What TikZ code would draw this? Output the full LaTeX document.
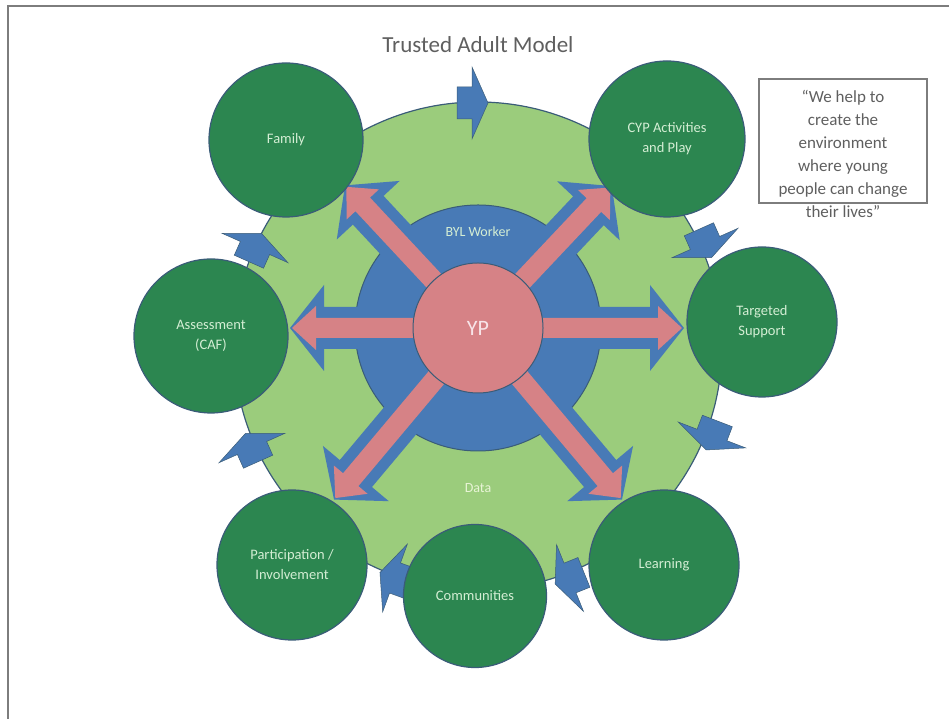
\documentclass[tikz,border=0pt]{standalone}
\usepackage{fontspec}
\setmainfont{Carlito}
\definecolor{leafgreen}{RGB}{44,134,80}
\definecolor{ringgreen}{RGB}{155,204,124}
\definecolor{workerblue}{RGB}{72,122,182}
\definecolor{yppink}{RGB}{214,130,134}
\definecolor{rimblue}{RGB}{58,92,120}
\definecolor{labelmint}{RGB}{212,238,212}
\definecolor{inkgray}{RGB}{95,95,95}
\definecolor{framegray}{RGB}{125,125,125}
\newcommand{\fatarrow}[2]{%
  \fill[workerblue, shift={(hub)}, rotate=#1]
    (40,-21) -- (#2-34,-21) -- (#2-34,-43) -- (#2,0) -- (#2-34,43) -- (#2-34,21) -- (40,21) -- cycle;
  \fill[yppink, shift={(hub)}, rotate=#1]
    (40,-10) -- (#2-26,-10) -- (#2-26,-22) -- (#2-2,0) -- (#2-26,22) -- (#2-26,10) -- (40,10) -- cycle;}
\begin{document}
\begin{tikzpicture}[x=1pt, y=1pt,
                    leaf/.style={circle, fill=leafgreen, draw=rimblue, line width=1.2pt, text=labelmint,
                                 font=\fontsize{14.5}{20}\selectfont, align=center, inner sep=0pt},
                    chunk/.style={fill=workerblue, draw=rimblue, line width=0.5pt, line join=miter}]
  \useasboundingbox (0,0) rectangle (949,719);
  \draw[framegray, line width=2pt] (8,0) -- (8,713) -- (949,713);
  \node[text=inkgray, font=\fontsize{23}{28}\selectfont] (title) at (478,674) {Trusted Adult Model};
  \node[draw=framegray, line width=1.5pt, minimum width=168pt, minimum height=124pt] (quotebox) at (843,578) {};
  \node[text=inkgray, font=\fontsize{17}{23}\selectfont, align=center] (quote) at (843,565)
    {``We help to\\create the\\environment\\where young\\people can change\\their lives''};
  \node[circle, fill=ringgreen, draw=rimblue, line width=1.2pt, minimum size=488pt] (ring) at (478,373) {};
  \node[circle, fill=workerblue, draw=rimblue, line width=1pt, minimum size=246pt] (worker) at (478,391) {};
  \coordinate (hub) at (478,391);
  \fatarrow{0}{206}
  \fatarrow{46.7}{195}
  \fatarrow{133}{195}
  \fatarrow{180}{188}
  \fatarrow{230}{224}
  \fatarrow{310}{224}
  \node[circle, fill=yppink, draw=rimblue, line width=1pt, minimum size=130pt, text={rgb,255:red,248;green,228;blue,232},
        font=\fontsize{22}{26}\selectfont] (yp) at (hub) {YP};
  \node[text=labelmint, font=\fontsize{14}{18}\selectfont] (byl) at (478,487) {BYL Worker};
  \node[text={rgb,255:red,232;green,244;blue,214}, font=\fontsize{14}{18}\selectfont] (data) at (478,231) {Data};
  \foreach \px/\py/\dir in {472/616/0, 705/476/-66, 712/284/-111, 570/141/-158, 395/141/160, 252/271/114, 255/471/66}
    \draw[chunk, shift={(\px,\py)}, rotate=\dir]
      (-15,-16) -- (0,-16) -- (0,-36) -- (16,0) -- (0,36) -- (0,16) -- (-15,16) -- cycle;
  \node[leaf, minimum size=154pt] (family) at (286,579) {Family};
  \node[leaf, minimum size=156pt] (cyp) at (667,580) {CYP Activities\\and Play};
  \node[leaf, minimum size=150pt] (targeted) at (762,397) {Targeted\\Support};
  \node[leaf, minimum size=154pt] (assessment) at (211,383) {Assessment\\(CAF)};
  \node[leaf, minimum size=150pt] (participation) at (292,154) {Participation /\\Involvement};
  \node[leaf, minimum size=143pt] (communities) at (475,123) {Communities};
  \node[leaf, minimum size=150pt] (learning) at (664,154) {Learning};
\end{tikzpicture}
\end{document}
